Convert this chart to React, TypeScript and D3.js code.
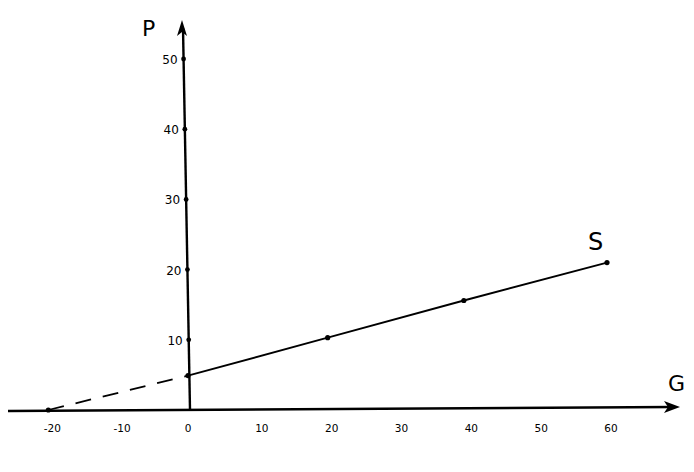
import React from "react";
import * as d3 from "d3";

const xTicks = [-20, -10, 0, 10, 20, 30, 40, 50, 60];
const yTicks = [10, 20, 30, 40, 50];
const dashedX = [-20, 0];
const dashedY = [0, 4.9];
const solidX = [0, 20, 39.5, 60];
const solidY = [4.9, 10.3, 15.6, 21];

export default function App() {
  const W = 694, H = 472;
  const x = d3.scaleLinear().domain([0, 60]).range([188, 607]);
  const y = d3.scaleLinear().domain([0, 50]).range([410, 59]);
  const mk = (xs: number[], ys: number[]) =>
    d3.line<[number, number]>().x((d) => x(d[0])).y((d) => y(d[1]))(xs.map((v, i) => [v, ys[i]]) as [number, number][]) || "";
  const font = "'DejaVu Sans', sans-serif";
  return (
    <svg width={W} height={H} style={{ position: "absolute", left: 0, top: 0, background: "#fff" }}>
      {/* x axis */}
      <line x1={8} y1={411} x2={672} y2={407} stroke="#000" strokeWidth={2.4} />
      <path d="M664,401 L680,407 L664,413 L668,407 Z" fill="#000" />
      {/* y axis */}
      <line x1={x(0) + 2} y1={y(0)} x2={x(0) - 5} y2={28} stroke="#000" strokeWidth={2.4} />
      <path d="M177,36 L182,20 L187,36 L182,32 Z" fill="#000" />
      {/* line S */}
      <path d={mk(dashedX, dashedY)} fill="none" stroke="#000" strokeWidth={1.8} strokeDasharray="16,12" />
      <path d={mk(solidX, solidY)} fill="none" stroke="#000" strokeWidth={1.9} />
      {dashedX.slice(0, 1).concat(solidX).map((v, i) => {
        const yy = i === 0 ? dashedY[0] : solidY[i - 1];
        return <circle key={"p" + i} cx={x(v)} cy={y(yy)} r={2.6} fill="#000" />;
      })}
      {/* y ticks */}
      {yTicks.map((t) => {
        const cx = x(0) + 2 - (7 * (410 - y(t))) / 382;
        return (
          <g key={"y" + t}>
            <circle cx={cx} cy={y(t)} r={2.4} fill="#000" />
            <text x={cx - 6} y={y(t) + 5} textAnchor="end" fontFamily={font} fontSize={12} fill="#000">
              {t}
            </text>
          </g>
        );
      })}
      {/* x tick labels */}
      {xTicks.map((t) => (
        <text key={"x" + t} x={x(t) + (t === 0 ? 0 : 4)} y={432} textAnchor="middle" fontFamily={font} fontSize={10.5} fill="#000">
          {t}
        </text>
      ))}
      <text x={142} y={36} fontFamily={font} fontSize={22} fill="#000">P</text>
      <text x={668} y={391} fontFamily={font} fontSize={22} fill="#000">G</text>
      <text x={588} y={250} fontFamily={font} fontSize={24} fill="#000">S</text>
    </svg>
  );
}
